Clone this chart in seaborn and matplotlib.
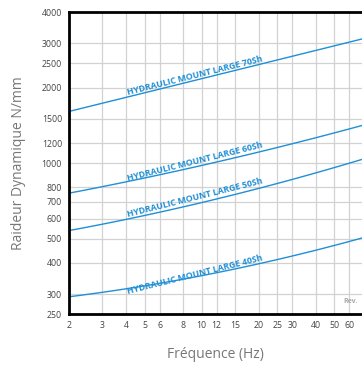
import numpy as np
import pandas as pd
import matplotlib
matplotlib.use("Agg")
import matplotlib.pyplot as plt
import seaborn as sns

# values (frequency Hz -> stiffness N/mm)
freq = [2, 3, 5, 10, 20, 40, 70]
k_70sh = [1590, 1740, 1920, 2200, 2415, 2800, 3150]
k_60sh = [750, 810, 873, 1000, 1096, 1219, 1444]
k_50sh = [541, 563, 612, 720, 790, 880, 1056]
k_40sh = [294, 305, 322, 354, 397, 455, 498]

names = ["HYDRAULIC MOUNT LARGE 70Sh", "HYDRAULIC MOUNT LARGE 60Sh",
         "HYDRAULIC MOUNT LARGE 50Sh", "HYDRAULIC MOUNT LARGE 40Sh"]
series = [k_70sh, k_60sh, k_50sh, k_40sh]

# where each label sits (freq, stiffness) along its curve
label_pos = [(9.3, 2140), (9.3, 975), (9.3, 700), (9.3, 344)]

xticks = [2, 3, 4, 5, 6, 8, 10, 12, 15, 20, 25, 30, 40, 50, 60]
yticks = [250, 300, 400, 500, 600, 700, 800, 1000, 1200, 1500, 2000, 2500, 3000, 4000]

sns.set_style("white")
plt.rcParams['font.family'] = ['Open Sans', 'DejaVu Sans']

blue = "#1f8fd6"
fig = plt.figure(figsize=(3.62, 3.67), dpi=100)
ax = fig.add_axes([69 / 362, 53 / 367, 1 - 69 / 362, 302 / 367])

# smooth the curves in log space (quadratic) so they bend like the reference
smooth = []
for n, s in zip(names, series):
    lx = np.log10(freq)
    ly = np.log10(s)
    coef = np.polyfit(lx, ly, 2)
    for a in np.linspace(lx[0], lx[-1], 80):
        smooth.append({"freq": 10 ** a, "k": 10 ** np.polyval(coef, a), "serie": n})
sdf = pd.DataFrame(smooth)

sns.lineplot(data=sdf, x="freq", y="k", hue="serie", palette=[blue] * 4,
             legend=False, linewidth=1.0, ax=ax, estimator=None)

ax.set_xscale("log")
ax.set_yscale("log")
ax.set_xlim(2, 70)
ax.set_ylim(250, 4000)
ax.set_xticks(xticks)
ax.set_xticklabels([str(t) for t in xticks])
ax.set_yticks(yticks)
ax.set_yticklabels([str(t) for t in yticks])
ax.minorticks_off()
ax.grid(True, color="#d2d2d2", linewidth=0.9)
ax.tick_params(labelsize=6.3, colors="#444444", length=3, width=0.8, pad=2)

for side in ["left", "bottom", "top"]:
    ax.spines[side].set_color("black")
    ax.spines[side].set_linewidth(2)
ax.spines["right"].set_visible(False)

for n, (fx, fy) in zip(names, label_pos):
    ax.text(fx, fy, n, color=blue, fontsize=6.3, fontweight="bold",
            rotation=14, ha="center", va="bottom", rotation_mode="anchor")

ax.text(0.985, 0.03, "Rev.", transform=ax.transAxes, color="#aaaaaa",
        fontsize=5, fontweight="bold", ha="right", va="bottom")

ax.set_xlabel("Fréquence (Hz)", fontsize=10, color="#777777", labelpad=12)
ax.set_ylabel("Raideur Dynamique N/mm", fontsize=10, color="#777777", labelpad=11)

fig.savefig("out.png", dpi=100)
